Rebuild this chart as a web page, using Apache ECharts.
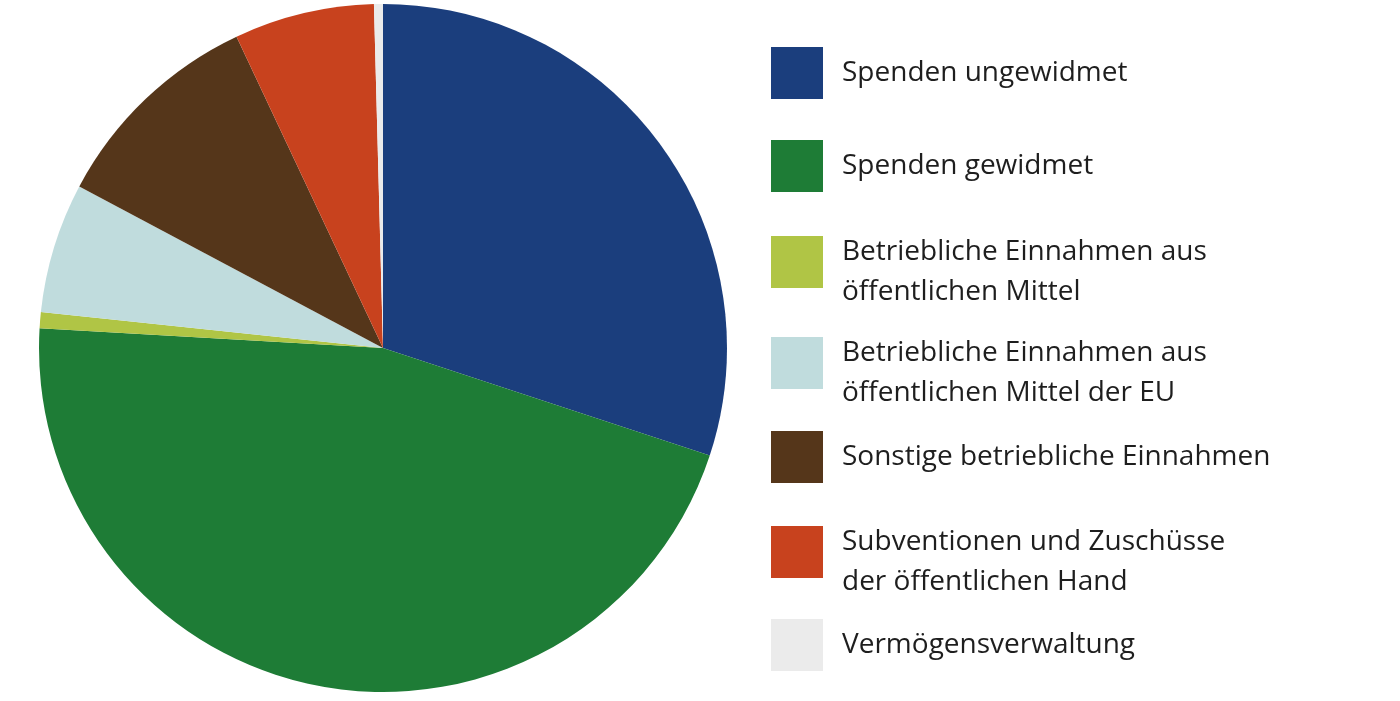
<!DOCTYPE html>
<html>
<head>
<meta charset="utf-8">
<title>Einnahmen</title>
<script src="https://cdn.jsdelivr.net/npm/echarts@6/dist/echarts.min.js"></script>
<style>
    html, body { margin: 0; padding: 0; background: #fff; }
    #main { width: 1400px; height: 701px; }
</style>
</head>
<body>
<div id="main"></div>
<script>
// Kategorien und Anteile (in %), im Uhrzeigersinn ab 12 Uhr
var categories = [
    'Spenden ungewidmet',
    'Spenden gewidmet',
    'Betriebliche Einnahmen aus öffentlichen Mittel',
    'Betriebliche Einnahmen aus öffentlichen Mittel der EU',
    'Sonstige betriebliche Einnahmen',
    'Subventionen und Zuschüsse der öffentlichen Hand',
    'Vermögensverwaltung'
];
var legendLabels = [
    'Spenden ungewidmet',
    'Spenden gewidmet',
    'Betriebliche Einnahmen aus\nöffentlichen Mittel',
    'Betriebliche Einnahmen aus\nöffentlichen Mittel der EU',
    'Sonstige betriebliche Einnahmen',
    'Subventionen und Zuschüsse\nder öffentlichen Hand',
    'Vermögensverwaltung'
];
var values = [30.06, 45.86, 0.75, 6.11, 10.22, 6.58, 0.42];
var colors = ['#1b3e7d', '#1e7c36', '#b0c545', '#c0dcdd', '#55361a', '#c8421e', '#ebebeb'];

var chart = echarts.init(document.getElementById('main'));

// eine Legende pro Eintrag, damit die Abstände wie im Original sitzen
// (Oberkante des Farbkästchens)
var iconTops = [47, 140, 236, 337, 431, 526, 619];
var LINE_H = 40;
var legends = [];
for (var i = 0; i < categories.length; i++) {
    var twoLines = legendLabels[i].indexOf('\n') >= 0;
    // zweizeilig: Kästchen sitzt oben, Text ist etwas nach unten versetzt
    // -> Icon-Pfad mit unsichtbarem Punkt bei y=72 verlängert die Box
    var boxH = twoLines ? Math.max(72, 2 * LINE_H) : 52;
    var iconH = twoLines ? 72 : 52;
    legends.push({
        data: [categories[i]],
        orient: 'vertical',
        left: 771,
        top: iconTops[i] - (boxH - iconH) / 2,
        padding: 0,
        itemWidth: 52,
        itemHeight: iconH,
        selectedMode: false,
        icon: twoLines ? 'path://M0,0H52V52H0ZM0,72L0,72' : 'rect',
        formatter: (function (label) {
            return function () { return label; };
        })(legendLabels[i]),
        textStyle: {
            fontFamily: 'Open Sans',
            fontSize: 28,
            color: '#1e1e1e',
            lineHeight: LINE_H,
            padding: [0, 0, 0, 14]
        }
    });
}

var seriesData = [];
for (var j = 0; j < categories.length; j++) {
    seriesData.push({
        name: categories[j],
        value: values[j],
        itemStyle: { color: colors[j] }
    });
}

chart.setOption({
    animation: false,
    legend: legends,
    series: [{
        type: 'pie',
        center: [383, 348],
        radius: 344,
        startAngle: 90,
        clockwise: true,
        silent: true,
        label: { show: false },
        labelLine: { show: false },
        itemStyle: { borderWidth: 0 },
        data: seriesData
    }]
});
</script>
</body>
</html>
